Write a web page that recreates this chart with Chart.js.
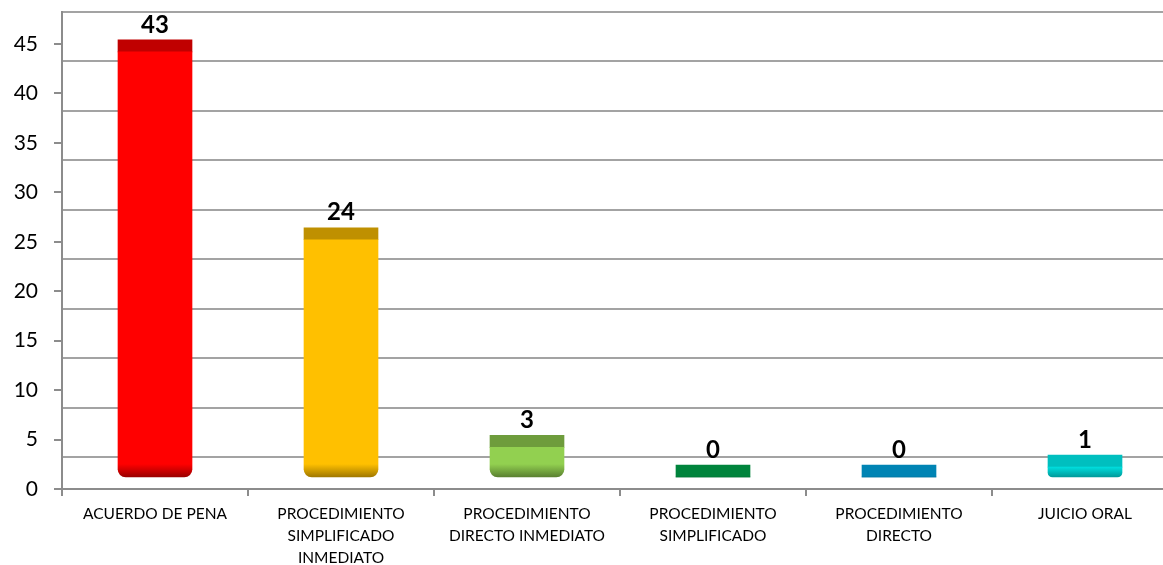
<!DOCTYPE html>
<html>
<head>
<meta charset="utf-8">
<script src="https://cdn.jsdelivr.net/npm/chart.js@4.4.1/dist/chart.umd.min.js"></script>
<style>
  html, body { margin: 0; padding: 0; background: #fff; overflow: hidden; }
  #wrap { width: 1163px; height: 565px; overflow: hidden; }
  canvas { display: block; }
</style>
</head>
<body>
<div id="wrap"><canvas id="chart" width="1180" height="565"></canvas></div>
<script>
// categorias del grafico
const categories = [
  ['ACUERDO DE PENA'],
  ['PROCEDIMIENTO', 'SIMPLIFICADO', 'INMEDIATO'],
  ['PROCEDIMIENTO', 'DIRECTO INMEDIATO'],
  ['PROCEDIMIENTO', 'SIMPLIFICADO'],
  ['PROCEDIMIENTO', 'DIRECTO'],
  ['JUICIO ORAL']
];
const values = [43, 24, 3, 0, 0, 1];
const yTicks = [0, 5, 10, 15, 20, 25, 30, 35, 40, 45];

const frontColors = ['#ff0000', '#ffc000', '#92d050', '#00b050', '#00b0f0', '#00f2f2'];
const topColors = ['#c00000', '#bf9000', '#6e9c3c', '#00843c', '#0084b4', '#00bfbf'];
const bottomColors = ['#9a0000', '#a07800', '#5a8030', '#006a30', '#006a90', '#009a9a'];

// "3d" look: back wall is shifted up, bar caps have some depth
const Y_MAX = 48.24;
const BACK_SHIFT = 3.24;
const BAR_SHIFT = 1.21;
const CAP = 1.21;

function frontGradient(ctx) {
  const chart = ctx.chart;
  const i = ctx.dataIndex;
  if (!chart.chartArea) return frontColors[i];
  const y0 = chart.scales.yBar.getPixelForValue(0);
  const g = chart.ctx.createLinearGradient(0, y0 - 13, 0, y0);
  g.addColorStop(0, frontColors[i]);
  g.addColorStop(1, bottomColors[i]);
  return g;
}

const valueLabels = {
  id: 'valueLabels',
  afterDatasetsDraw(chart) {
    const c = chart.ctx;
    const yBar = chart.scales.yBar;
    const meta = chart.getDatasetMeta(1);
    c.save();
    c.font = 'bold 24px Lato, "Open Sans", sans-serif';
    c.fillStyle = '#000';
    c.textAlign = 'center';
    c.textBaseline = 'middle';
    values.forEach((v, i) => {
      const x = meta.data[i].x;
      const y = yBar.getPixelForValue(v + CAP) - 15;
      c.fillText(String(v), x, y);
    });
    c.restore();
  }
};

const fixedTicks = scale => {
  scale.ticks = yTicks.map(v => ({ value: v }));
};

// no extra room for the tick labels, the layout is fixed by hand
const noPad = s => {
  s.paddingTop = 0;
  s.paddingBottom = 0;
  s.paddingLeft = 0;
  s.paddingRight = 0;
};

new Chart(document.getElementById('chart'), {
  type: 'bar',
  data: {
    labels: categories,
    datasets: [
      {
        label: 'frente',
        data: values.map(v => [0, v]),
        yAxisID: 'yBar',
        backgroundColor: frontGradient,
        borderWidth: 0,
        borderSkipped: false,
        borderRadius: { topLeft: 0, topRight: 0, bottomLeft: 8, bottomRight: 8 },
        barThickness: 74,
        grouped: false
      },
      {
        label: 'tapa',
        data: values.map(v => [v, v + CAP]),
        yAxisID: 'yBar',
        backgroundColor: topColors,
        borderWidth: 0,
        borderSkipped: false,
        barThickness: 74,
        grouped: false
      }
    ]
  },
  options: {
    responsive: false,
    animation: false,
    devicePixelRatio: 1,
    layout: { padding: { top: 12, right: 2, left: 0, bottom: 0 } },
    plugins: { legend: { display: false }, tooltip: { enabled: false } },
    scales: {
      x: {
        offset: true,
        grid: { offset: true, drawOnChartArea: false, drawTicks: true, tickLength: 7, color: '#8c8c8c', lineWidth: 2 },
        border: { display: true, color: '#8c8c8c', width: 2 },
        ticks: {
          color: '#000',
          padding: 7,
          maxRotation: 0,
          autoSkip: false,
          font: { family: 'Lato, "Open Sans", sans-serif', size: 15.5, lineHeight: 1.42 }
        },
        afterFit: s => { s.height = 76; noPad(s); }
      },
      y: {
        position: 'left',
        min: 0,
        max: Y_MAX,
        bounds: 'data',
        afterBuildTicks: fixedTicks,
        grid: { drawOnChartArea: false, drawTicks: true, tickLength: 8, color: '#8c8c8c', lineWidth: 2 },
        border: { display: true, color: '#8c8c8c', width: 2 },
        ticks: {
          color: '#000',
          padding: 16,
          font: { family: 'Lato, "Open Sans", sans-serif', size: 21 }
        },
        afterFit: s => { s.width = 62; noPad(s); }
      },
      yBack: {
        position: 'left',
        min: -BACK_SHIFT,
        max: Y_MAX - BACK_SHIFT,
        bounds: 'data',
        afterBuildTicks: fixedTicks,
        grid: { drawOnChartArea: true, drawTicks: false, color: '#a3a3a3', lineWidth: 2 },
        border: { display: false },
        ticks: { display: false },
        afterFit: s => { s.width = 0; noPad(s); }
      },
      yBar: {
        display: false,
        bounds: 'data',
        min: -BAR_SHIFT,
        max: Y_MAX - BAR_SHIFT
      }
    }
  },
  plugins: [valueLabels]
});
</script>
</body>
</html>
